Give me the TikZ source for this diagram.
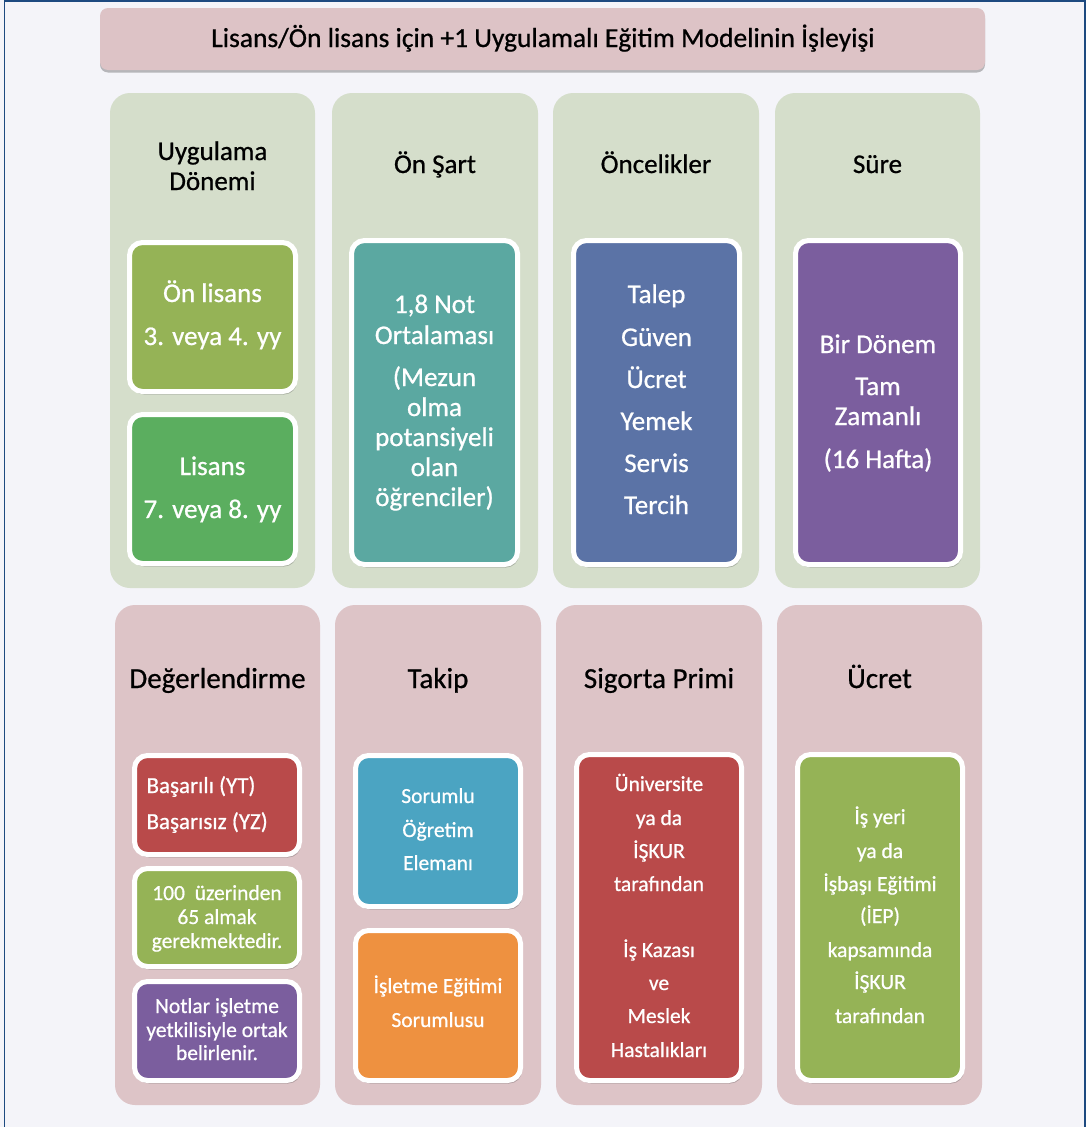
\documentclass[tikz,border=0pt]{standalone}
\usepackage{fontspec}
\setmainfont{Carlito}[FakeBold=0.7]
\usetikzlibrary{shadows}
\definecolor{bgc}{HTML}{F4F4F9}
\definecolor{framec}{HTML}{1D4A80}
\definecolor{titlec}{HTML}{DDC3C6}
\definecolor{colgreen}{HTML}{D5DECB}
\definecolor{colpink}{HTML}{DDC4C7}
\definecolor{olive}{HTML}{95B356}
\definecolor{grn}{HTML}{5BAE5F}
\definecolor{teal}{HTML}{5BA8A1}
\definecolor{blu}{HTML}{5B73A6}
\definecolor{purp}{HTML}{7B5E9E}
\definecolor{redc}{HTML}{B94A4A}
\definecolor{lblue}{HTML}{4BA4C2}
\definecolor{orng}{HTML}{EE9140}
\begin{document}
\begin{tikzpicture}[x=1pt,y=-1pt,
  col/.style={rounded corners=20pt, inner sep=0pt, minimum width=205pt},
  ibox/.style={draw=white, line width=5pt, rounded corners=13pt, inner sep=0pt,
    drop shadow={shadow xshift=1.5pt, shadow yshift=-3pt, opacity=0.22, fill=black}},
  hd/.style={anchor=base, font=\fontsize{27}{30}\selectfont, text=black},
  bh/.style={anchor=base, font=\fontsize{29}{32}\selectfont, text=black},
  tw/.style={anchor=base, font=\fontsize{27}{30}\selectfont, text=white},
  sw/.style={anchor=base, font=\fontsize{21.5}{24}\selectfont, text=white},
]
\useasboundingbox (0,0) rectangle (1086,1127);
\fill[bgc] (0,0) rectangle (1086,1127);
\draw[framec, line width=1.5pt] (4.5,1127) -- (4.5,1.2) -- (1085,1.2) -- (1085,1127);
\draw[framec, line width=2.4pt] (3.8,1.2) -- (1085.5,1.2);

% title
\node[fill=titlec, rounded corners=8pt, minimum width=885pt, minimum height=62pt, inner sep=0pt,
  drop shadow={shadow xshift=0pt, shadow yshift=-2.5pt, opacity=0.25, fill=black}] (title) at (542.5,39) {};
\node[anchor=base, font=\fontsize{27.5}{30}\selectfont] (titletext) at (543,47) {Lisans/Ön lisans için +1 Uygulamalı Eğitim Modelinin İşleyişi};

% top columns
\node[col, fill=colgreen, minimum height=495pt] (c1) at (212.5,340.5) {};
\node[col, fill=colgreen, minimum height=495pt, minimum width=206pt] (c2) at (435,340.5) {};
\node[col, fill=colgreen, minimum height=495pt, minimum width=206pt] (c3) at (656,340.5) {};
\node[col, fill=colgreen, minimum height=495pt] (c4) at (877.5,340.5) {};
% bottom columns
\node[col, fill=colpink, minimum height=500pt] (d1) at (217.5,855) {};
\node[col, fill=colpink, minimum height=500pt, minimum width=206pt] (d2) at (438,855) {};
\node[col, fill=colpink, minimum height=500pt, minimum width=206pt] (d3) at (659,855) {};
\node[col, fill=colpink, minimum height=500pt] (d4) at (879.5,855) {};

% headers
\node[hd] (h1a) at (212.5,160) {Uygulama};
\node[hd] (h1b) at (212.5,190) {Dönemi};
\node[hd] (h2) at (435,173) {Ön Şart};
\node[hd] (h3) at (656,173) {Öncelikler};
\node[hd] (h4) at (877.5,173) {Süre};
\node[bh] (g1) at (217.5,688) {Değerlendirme};
\node[bh] (g2) at (438,688) {Takip};
\node[bh] (g3) at (659,688) {Sigorta Primi};
\node[bh] (g4) at (879.5,688) {Ücret};

% top inner boxes
\node[ibox, fill=olive, minimum width=166pt, minimum height=149pt] (b11) at (212.5,317) {};
\node[ibox, fill=grn, minimum width=166pt, minimum height=149pt] (b12) at (212.5,489) {};
\node[ibox, fill=teal, minimum width=166pt, minimum height=324pt] (b2) at (434.5,402.5) {};
\node[ibox, fill=blu, minimum width=166pt, minimum height=324pt] (b3) at (656.5,402.5) {};
\node[ibox, fill=purp, minimum width=165pt, minimum height=324pt] (b4) at (878,402.5) {};

\node[tw] (t11a) at (212.5,302) {Ön lisans};
\node[tw] (t11b) at (212.5,345) {3. veya 4. yy};
\node[tw] (t12a) at (212.5,475) {Lisans};
\node[tw] (t12b) at (212.5,518) {7. veya 8. yy};

\node[tw] (t2a) at (434.5,313) {1,8 Not};
\node[tw] (t2b) at (434.5,344) {Ortalaması};
\node[tw] (t2c) at (434.5,386) {(Mezun};
\node[tw] (t2d) at (434.5,416) {olma};
\node[tw] (t2e) at (434.5,446) {potansiyeli};
\node[tw] (t2f) at (434.5,476) {olan};
\node[tw] (t2g) at (434.5,506) {öğrenciler)};

\node[tw] (t3a) at (656.5,303) {Talep};
\node[tw] (t3b) at (656.5,346) {Güven};
\node[tw] (t3c) at (656.5,388) {Ücret};
\node[tw] (t3d) at (656.5,430) {Yemek};
\node[tw] (t3e) at (656.5,472) {Servis};
\node[tw] (t3f) at (656.5,514) {Tercih};

\node[tw] (t4a) at (878,353) {Bir Dönem};
\node[tw] (t4b) at (878,395) {Tam};
\node[tw] (t4c) at (878,425) {Zamanlı};
\node[tw] (t4d) at (878,468) {(16 Hafta)};

% bottom inner boxes
\node[ibox, fill=redc, minimum width=165pt, minimum height=99pt] (e11) at (217,805) {};
\node[ibox, fill=olive, minimum width=165pt, minimum height=98pt] (e12) at (217,917.5) {};
\node[ibox, fill=purp, minimum width=165pt, minimum height=99pt] (e13) at (217,1031) {};
\node[ibox, fill=lblue, minimum width=165pt, minimum height=151pt] (e21) at (438,831) {};
\node[ibox, fill=orng, minimum width=165pt, minimum height=150pt] (e22) at (438,1005.5) {};
\node[ibox, fill=redc, minimum width=165pt, minimum height=326pt] (e3) at (659,917.5) {};
\node[ibox, fill=olive, minimum width=165pt, minimum height=326pt] (e4) at (880,917.5) {};

\node[sw, anchor=base west, font=\fontsize{23}{26}\selectfont] (s11a) at (143,793) {Başarılı (YT)};
\node[sw, anchor=base west, font=\fontsize{23}{26}\selectfont] (s11b) at (143,829) {Başarısız (YZ)};
\node[sw] (s12a) at (217,900) {100~~üzerinden};
\node[sw] (s12b) at (217,924) {65 almak};
\node[sw] (s12c) at (217,948) {gerekmektedir.};
\node[sw] (s13a) at (217,1013) {Notlar işletme};
\node[sw] (s13b) at (217,1037) {yetkilisiyle ortak};
\node[sw] (s13c) at (217,1060) {belirlenir.};

\node[sw] (s21a) at (438,803) {Sorumlu};
\node[sw] (s21b) at (438,837) {Öğretim};
\node[sw] (s21c) at (438,870) {Elemanı};
\node[sw] (s22a) at (438,993) {İşletme Eğitimi};
\node[sw] (s22b) at (438,1027) {Sorumlusu};

\node[sw] (s3a) at (659,791) {Üniversite};
\node[sw] (s3b) at (659,825) {ya da};
\node[sw] (s3c) at (659,858) {İŞKUR};
\node[sw] (s3d) at (659,891) {tarafından};
\node[sw] (s3e) at (659,957) {İş Kazası};
\node[sw] (s3f) at (659,990) {ve};
\node[sw] (s3g) at (659,1023) {Meslek};
\node[sw] (s3h) at (659,1057) {Hastalıkları};

\node[sw] (s4a) at (880,824) {İş yeri};
\node[sw] (s4b) at (880,858) {ya da};
\node[sw] (s4c) at (880,891) {İşbaşı Eğitimi};
\node[sw] (s4d) at (880,923) {(İEP)};
\node[sw] (s4e) at (880,957) {kapsamında};
\node[sw] (s4f) at (880,989) {İŞKUR};
\node[sw] (s4g) at (880,1023) {tarafından};
\end{tikzpicture}
\end{document}
